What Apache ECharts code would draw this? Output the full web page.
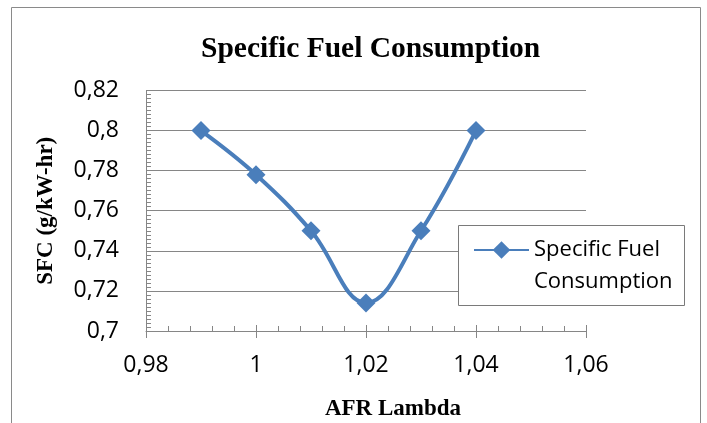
<!DOCTYPE html>
<html>
<head>
<meta charset="utf-8">
<script src="https://cdn.jsdelivr.net/npm/echarts@6/dist/echarts.min.js"></script>
<style>html,body{margin:0;padding:0;background:#fff}#c{width:707px;height:423px}</style>
</head>
<body>
<div id="c"></div>
<script>
const seriesName = 'Specific Fuel Consumption';
const lambdaValues = [0.99, 1.00, 1.01, 1.02, 1.03, 1.04];
const sfcValues = [0.800, 0.778, 0.750, 0.714, 0.750, 0.800];
const xTickLabels = ['0,98', '1', '1,02', '1,04', '1,06'];
const yTickLabels = ['0,7', '0,72', '0,74', '0,76', '0,78', '0,8', '0,82'];

const gray = '#868686';
const blue = '#4a7ebb';
const gridBox = { left: 146, right: 121, top: 90.5, bottom: 92, containLabel: false, outerBoundsMode: 'none' };

const chart = echarts.init(document.getElementById('c'), null, { renderer: 'canvas' });
chart.setOption({
  animation: false,
  backgroundColor: '#fff',
  title: {
    text: 'Specific Fuel Consumption',
    left: 201,
    top: 34,
    padding: 0,
    textStyle: { fontFamily: 'Liberation Serif', fontWeight: 'bold', fontSize: 29.5, color: '#000' }
  },
  graphic: [
    { type: 'rect', z: -1, shape: { x: 11.5, y: 7.5, width: 689, height: 440 }, style: { fill: 'none', stroke: '#8a8a8a', lineWidth: 1 } },
    { type: 'rect', z: 3, shape: { x: 458.5, y: 225.5, width: 226, height: 80 }, style: { fill: '#fff', stroke: '#7a7a7a', lineWidth: 1 } }
  ],
  legend: {
    data: [seriesName],
    left: 473,
    top: 202,
    padding: 0,
    z: 4,
    itemWidth: 55,
    itemHeight: 22,
    formatter: function (n) { return '\n' + n.replace('Fuel ', 'Fuel\n'); },
    textStyle: { fontFamily: 'Open Sans', fontSize: 22, lineHeight: 32, color: '#000' }
  },
  grid: [
    Object.assign({}, gridBox),
    Object.assign({}, gridBox)
  ],
  xAxis: [
    {
      type: 'value', gridIndex: 0, min: 0.98, max: 1.06, interval: 0.02,
      name: 'AFR Lambda', nameLocation: 'middle', nameGap: 67,
      nameTextStyle: { fontFamily: 'Liberation Serif', fontWeight: 'bold', fontSize: 23, color: '#000', padding: [0, 0, 0, 54] },
      axisLine: { show: true, lineStyle: { color: gray, width: 1 } },
      axisTick: { show: true, inside: false, length: 7, lineStyle: { color: gray } },
      splitLine: { show: false },
      axisLabel: {
        margin: 23, fontFamily: 'Open Sans', fontSize: 23, color: '#000',
        formatter: function (v, i) { return xTickLabels[i]; }
      }
    },
    {
      type: 'value', gridIndex: 1, min: 0.98, max: 1.06, interval: 0.02,
      axisLine: { show: false },
      axisTick: { show: true, inside: true, length: 6, lineStyle: { color: gray } },
      minorTick: { show: true, splitNumber: 5, length: 5, lineStyle: { color: gray } },
      splitLine: { show: false },
      axisLabel: { show: false }
    }
  ],
  yAxis: [
    {
      type: 'value', gridIndex: 0, min: 0.7, max: 0.82, interval: 0.02,
      name: 'SFC (g/kW-hr)', nameLocation: 'middle', nameGap: 88,
      nameTextStyle: { fontFamily: 'Liberation Serif', fontWeight: 'bold', fontSize: 23, color: '#000' },
      axisLine: { show: true, lineStyle: { color: gray, width: 1 } },
      axisTick: { show: true, inside: true, length: 6, lineStyle: { color: gray } },
      minorTick: { show: true, splitNumber: 10, length: 5, lineStyle: { color: gray } },
      splitLine: { show: true, lineStyle: { color: gray, width: 1 } },
      axisLabel: {
        margin: 27, fontFamily: 'Open Sans', fontSize: 23, color: '#000',
        formatter: function (v, i) { return yTickLabels[i]; }
      }
    },
    {
      type: 'value', gridIndex: 1, min: 0.7, max: 0.82, interval: 0.02, show: false
    }
  ],
  series: [
    {
      name: seriesName,
      type: 'line',
      xAxisIndex: 0,
      yAxisIndex: 0,
      data: lambdaValues.map(function (x, i) { return [x, sfcValues[i]]; }),
      smooth: 0.4,
      symbol: 'diamond',
      symbolSize: 19,
      lineStyle: { color: blue, width: 4 },
      itemStyle: { color: blue },
      z: 2
    }
  ]
});
</script>
</body>
</html>
